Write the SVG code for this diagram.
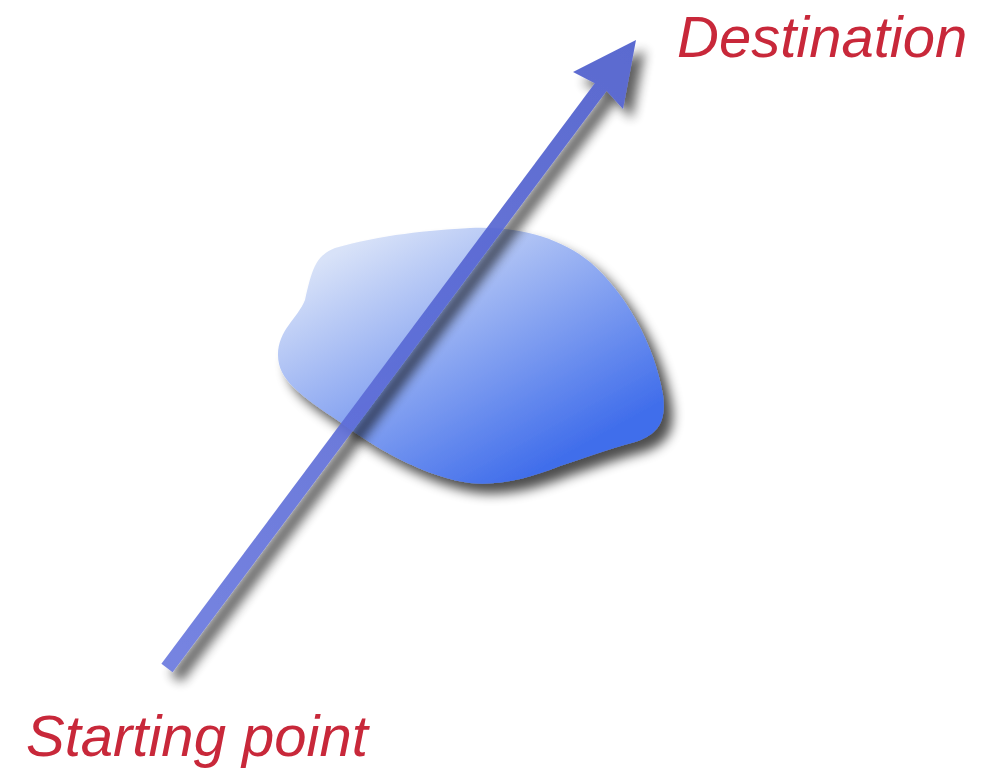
<svg xmlns="http://www.w3.org/2000/svg" width="988" height="771" viewBox="0 0 988 771">
<style>
.lbl{font-family:"Liberation Sans",Arial,Helvetica,sans-serif;font-style:italic;font-size:58px;fill:#c8283a}
</style>
<defs>
<linearGradient id="blobGrad" x1="380" y1="228" x2="520" y2="480" gradientUnits="userSpaceOnUse">
<stop offset="0" stop-color="#d8e2f8"/>
<stop offset="1" stop-color="#416eeb"/>
</linearGradient>
<linearGradient id="arrGrad" x1="167" y1="668" x2="636" y2="40" gradientUnits="userSpaceOnUse">
<stop offset="0" stop-color="#6877de"/>
<stop offset="1" stop-color="#4a5acb"/>
</linearGradient>
<filter id="shadow" x="-20%" y="-20%" width="150%" height="150%">
<feGaussianBlur in="SourceAlpha" stdDeviation="6"/>
<feOffset dx="9" dy="10" result="b"/>
<feComponentTransfer><feFuncA type="linear" slope="0.7"/></feComponentTransfer>
<feMerge><feMergeNode/><feMergeNode in="SourceGraphic"/></feMerge>
</filter>
</defs>
<g id="blob" filter="url(#shadow)">
<path d="M470,228 C520,226 560,238 590,262 C625,292 655,345 663,395 C667,425 655,435 635,442 C605,450 585,458 560,466 C530,478 500,486 470,483 C430,478 380,452 340,422 C300,395 278,380 278,355 C278,330 298,318 305,300 C312,270 315,256 335,248 C380,235 430,230 470,228 Z" fill="url(#blobGrad)"/>
</g>
<g id="connectors" filter="url(#shadow)" opacity="0.9">
<line x1="167" y1="668" x2="603" y2="84" stroke="url(#arrGrad)" stroke-width="14"/>
<polygon points="636,40 623,109 604,88 573,72" fill="url(#arrGrad)"/>
</g>
<g id="destination"><text class="lbl" x="677" y="57">Destination</text></g>
<g id="start"><text class="lbl" x="26" y="756">Starting point</text></g>
</svg>
